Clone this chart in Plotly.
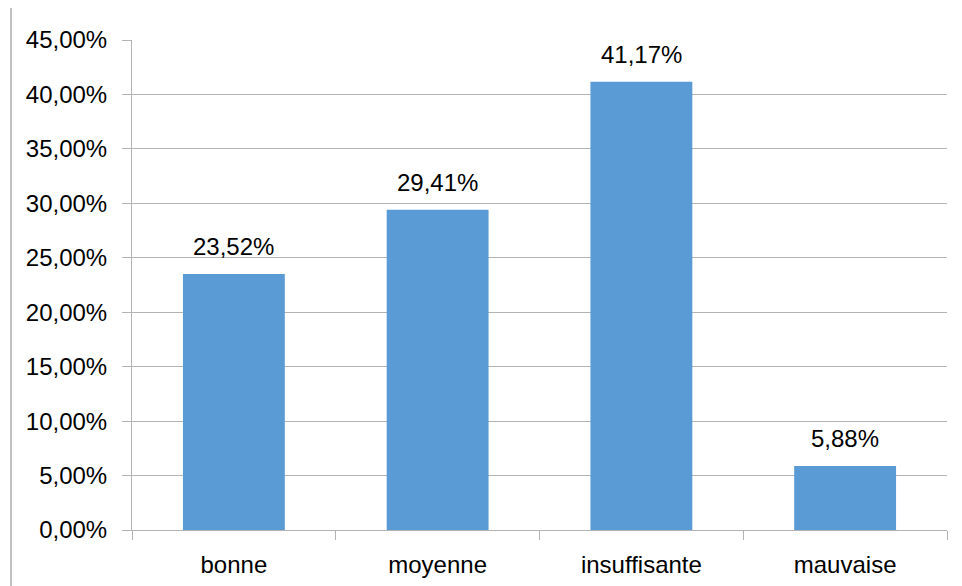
import plotly.graph_objects as go

# ── Data ─────────────────────────────────────────────────────────────────────
categories = ["bonne", "moyenne", "insuffisante", "mauvaise"]
shares = [0.2352, 0.2941, 0.4117, 0.0588]

_BAR_COL = "#5b9bd5"
_GRID_COL = "#b3b3b3"
_FONT = "Liberation Sans, Arial, sans-serif"

fig = go.Figure()

fig.add_trace(go.Bar(
    x=categories, y=shares,
    marker=dict(color=_BAR_COL, line=dict(width=0)),
    showlegend=False,
))

# data labels above bars
for cat, val in zip(categories, shares):
    fig.add_annotation(
        x=cat, y=val, xref="x", yref="y",
        text=f"{val * 100:.2f}%".replace(".", ","),
        showarrow=False, yanchor="middle", yshift=27,
        font=dict(size=24, color="#000000", family=_FONT),
    )

# outer chart frame, left edge visible in the crop
fig.add_shape(
    type="line", xref="paper", yref="paper",
    x0=-0.1485, x1=-0.1485, y0=-0.2, y1=1.2,
    line=dict(color="#bfbfbf", width=2),
)

# page body has an 8px margin, so the figure is sized to fit the window
fig.update_layout(
    width=954, height=578,
    margin=dict(l=124, r=15, t=32, b=56),
    paper_bgcolor="white",
    plot_bgcolor="white",
    separators=", ",
    bargap=0.5,
    font=dict(family=_FONT, size=24, color="#000000"),
)
fig.update_yaxes(
    range=[0, 0.45], dtick=0.05, tickformat=".2%",
    showgrid=True, gridcolor=_GRID_COL, gridwidth=1,
    showline=True, linecolor=_GRID_COL, linewidth=1,
    ticks="outside", ticklen=9, tickcolor=_GRID_COL,
    ticklabelstandoff=10, zeroline=False, automargin=False,
)
fig.update_xaxes(
    showline=True, linecolor=_GRID_COL, linewidth=1,
    ticks="outside", ticklen=9, tickcolor=_GRID_COL,
    tickson="boundaries", ticklabelstandoff=13, automargin=False,
)

fig.write_html("out.html")
